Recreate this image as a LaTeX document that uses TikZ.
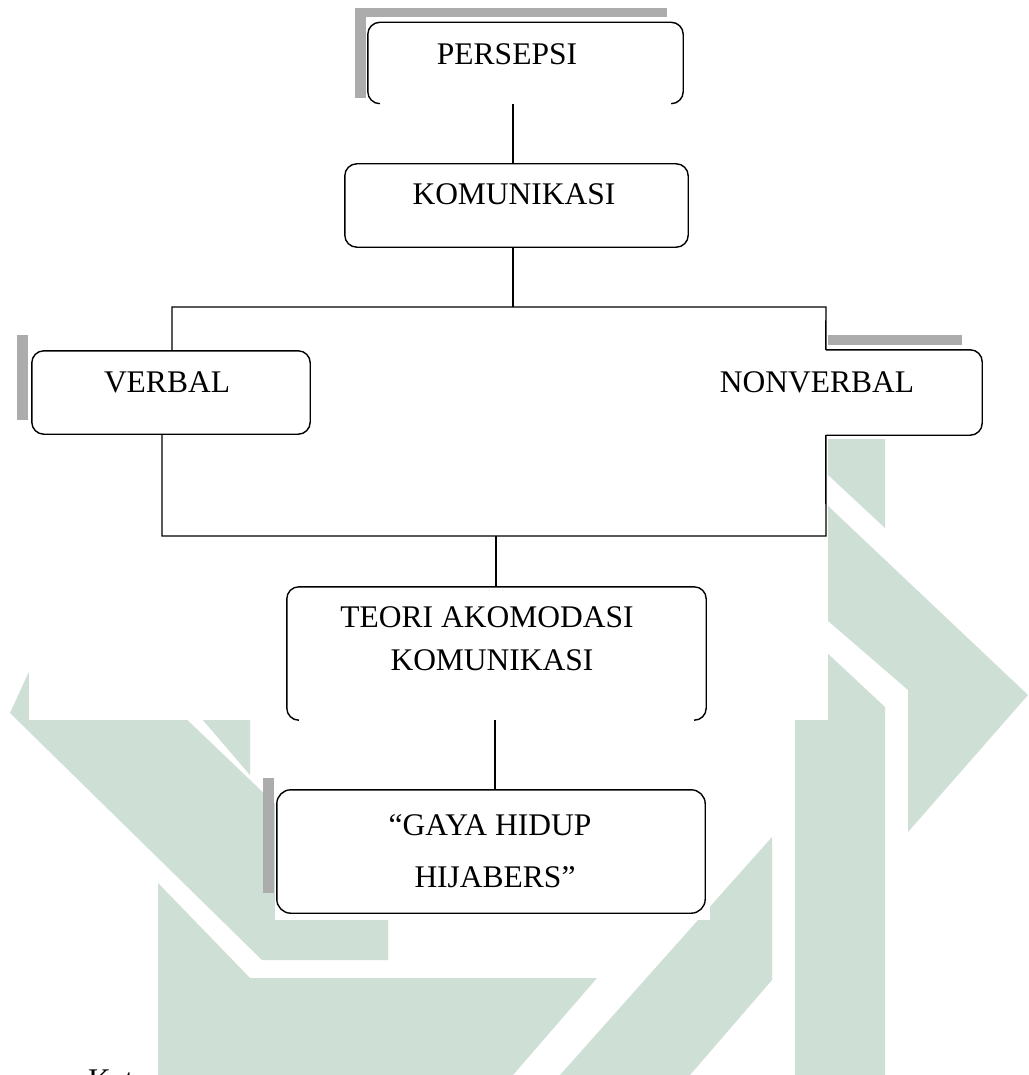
\documentclass[tikz,border=0pt]{standalone}
\usepackage{fontspec}
\setmainfont{Liberation Serif}
\definecolor{wmgreen}{RGB}{206,223,213}
\definecolor{shadegray}{RGB}{172,172,172}
\begin{document}
\begin{tikzpicture}[x=1pt,y=-1pt,
  wm/.style={fill=wmgreen, draw=none},
  paper/.style={fill=white, draw=none},
  shade/.style={fill=shadegray, draw=none},
  outline/.style={draw=black, line width=1.4pt, rounded corners=12pt},
  conn/.style={draw=black, line width=1.4pt},
  lbl/.style={font=\fontsize{31.5}{40}\selectfont, anchor=base, inner sep=0pt},
  boxarea/.style={draw=none, inner sep=0pt}
]
\useasboundingbox (0,0) rectangle (1028,1075);
\clip (0,0) rectangle (1028,1075);
\fill[white] (0,0) rectangle (1028,1075);

% watermark
\fill[wm] (10,713) -- (262,960) -- (388,960) -- (388,912) -- (62,600) -- cycle;
\fill[wm] (100,600) -- (250,775) -- (250,600) -- cycle;
\fill[wm] (158,883) -- (250,978) -- (597,978) -- (513,1075) -- (158,1075) -- cycle;
\fill[wm] (772,837) -- (772,980) -- (690,1075) -- (560,1075) -- cycle;
\fill[wm] (795,623) -- (885,707) -- (885,1075) -- (795,1075) -- cycle;
\fill[wm] (827,505) -- (1028,695) -- (908,832) -- (908,690) -- (827,620) -- cycle;
\fill[wm] (827,439) -- (885,439) -- (885,528) -- (827,474) -- cycle;

% paper areas
\fill[paper] (29,0) rectangle (828,720);
\fill[paper] (275,778) rectangle (710,920);

% shadows
\fill[shade] (355,8) rectangle (667,17);
\fill[shade] (355,8) rectangle (366,98);
\fill[shade] (17,335) rectangle (28,420);
\fill[shade] (828,335) rectangle (962,345);
\fill[shade] (263,778) rectangle (274,893);

% box areas
\node[boxarea, minimum width=315pt, minimum height=81pt] (persepsi) at (525.5,63) {};
\node[boxarea, minimum width=343pt, minimum height=83pt] (komunikasi) at (516.5,205.5) {};
\node[boxarea, minimum width=278pt, minimum height=83pt] (verbal) at (171,392.5) {};
\node[boxarea, minimum width=156pt, minimum height=85pt] (nonverbal) at (904,392.5) {};
\node[boxarea, minimum width=419pt, minimum height=133pt] (teori) at (496.5,653.5) {};
\node[boxarea, minimum width=428pt, minimum height=123pt] (gaya) at (491,851.5) {};

% outlines
\draw[outline] ([xshift=12pt]persepsi.south west) -- (persepsi.south west) -- (persepsi.north west) -- (persepsi.north east) -- (persepsi.south east) -- ([xshift=-12pt]persepsi.south east);
\draw[outline] (komunikasi.south west) rectangle (komunikasi.north east);
\draw[outline] (verbal.south west) rectangle (verbal.north east);
\draw[outline] (nonverbal.north west) -- (nonverbal.north east) -- (nonverbal.south east) -- (nonverbal.south west);
\draw[outline] ([xshift=11pt]teori.south west) -- (teori.south west) -- (teori.north west) -- (teori.north east) -- (teori.south east) -- ([xshift=-11pt]teori.south east);
\draw[outline, rounded corners=14pt] (gaya.south west) rectangle (gaya.north east);

% junctions
\coordinate (jtop) at (513,307);
\coordinate (hl) at (172,307);
\coordinate (hr) at (826,307);
\coordinate (ll) at (162,536);
\coordinate (lr) at (826,536);
\coordinate (jbot) at (496,536);
\coordinate (tb) at (495,720);

% connectors
\draw[conn] (persepsi.south -| jtop) -- (komunikasi.north -| jtop);
\draw[conn] (komunikasi.south -| jtop) -- (jtop);
\draw[conn] (verbal.north -| hl) -- (hl) -- (hr) -- (nonverbal.north west);
\draw[conn] (verbal.south -| ll) -- (ll) -- (lr) -- (nonverbal.south west);
\draw[conn] (jbot) -- (teori.north -| jbot);
\draw[conn] (tb) -- (gaya.north -| tb);

% labels
\node[lbl] (tPersepsi) at (507,65) {PERSEPSI};
\node[lbl] (tKomunikasi) at (514,205) {KOMUNIKASI};
\node[lbl] (tVerbal) at (167,392) {VERBAL};
\node[lbl] (tNonverbal) at (817,392) {NONVERBAL};
\node[lbl] (tTeoriA) at (487,627) {TEORI AKOMODASI};
\node[lbl] (tTeoriB) at (492,670) {KOMUNIKASI};
\node[lbl] (tGayaA) at (490,835) {“GAYA HIDUP};
\node[lbl] (tGayaB) at (495,887) {HIJABERS”};
\node[lbl, anchor=base west] (ket) at (88,1090) {Ket};
\end{tikzpicture}
\end{document}
